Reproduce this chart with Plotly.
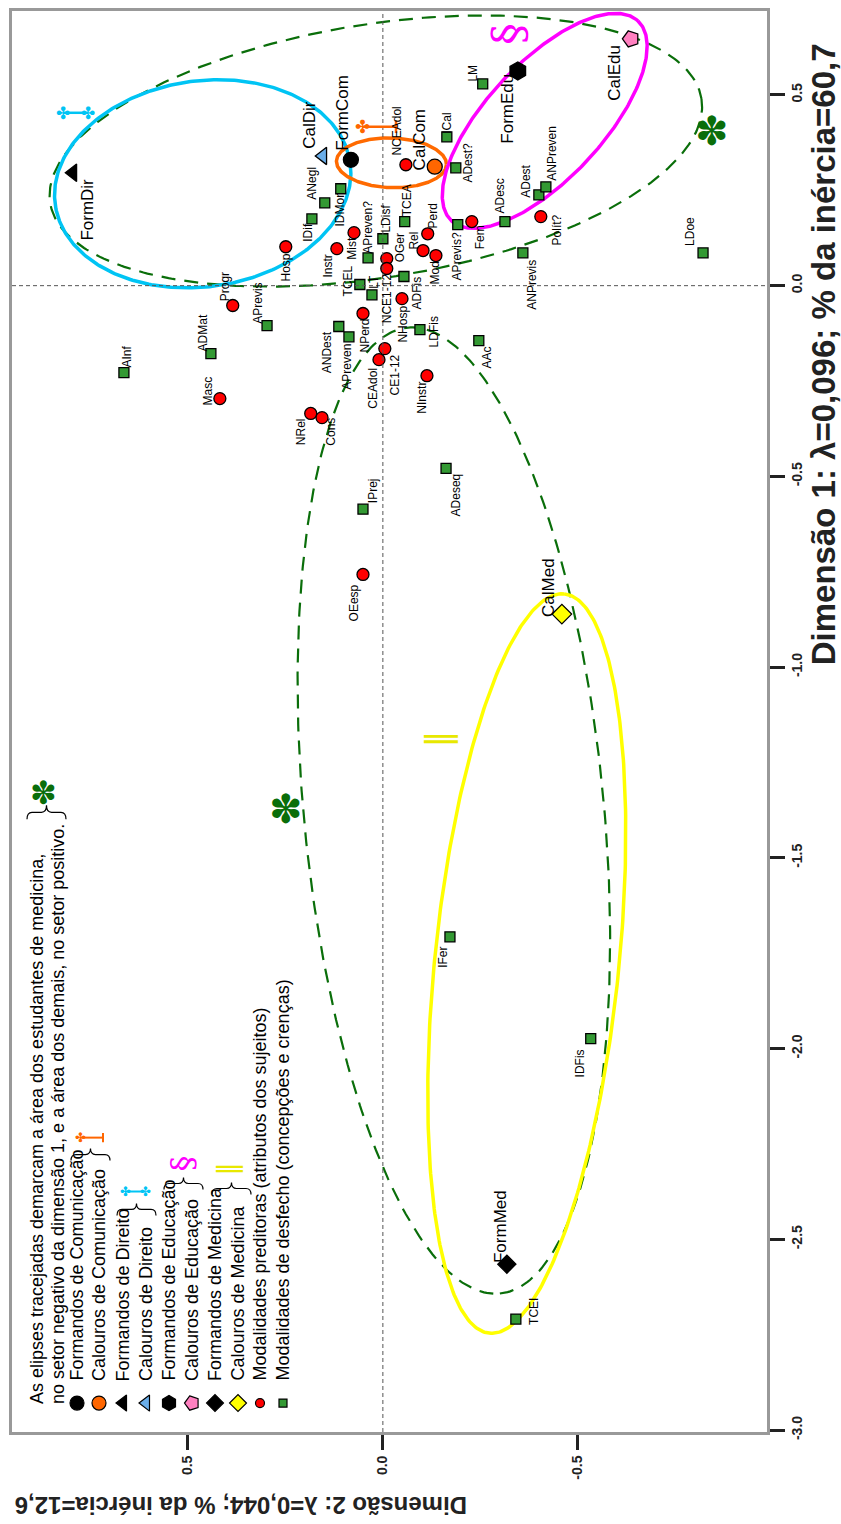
import numpy as np
import plotly.graph_objects as go

# ---------------- data (Dim2 = horizontal, reversed; Dim1 = vertical) ----------------
grp_names = ["FormCom", "CalCom", "FormDir", "CalDir", "FormEdu", "CalEdu", "FormMed", "CalMed"]
grp_d2 = [0.082, -0.133, 0.795, 0.154, -0.346, -0.636, -0.318, -0.459]
grp_d1 = [0.330, 0.312, 0.296, 0.340, 0.563, 0.647, -2.565, -0.861]

pred_names = ["Progr", "Hosp", "Instr", "Mist", "OGer", "NCE1-12", "Rel", "Perd", "Mod", "Fem",
              "Polít?", "NCEAdol", "NHosp", "NPerd", "CE1-12", "CEAdol", "NInstr", "Masc",
              "NRel", "Cons", "OEesp"]
pred_d2 = [0.385, 0.249, 0.118, 0.074, -0.010, -0.010, -0.103, -0.115, -0.136, -0.228,
           -0.405, -0.059, -0.049, 0.051, -0.005, 0.010, -0.113, 0.418,
           0.185, 0.156, 0.051]
pred_d1 = [-0.052, 0.102, 0.097, 0.139, 0.071, 0.045, 0.092, 0.136, 0.079, 0.168,
           0.181, 0.317, -0.034, -0.073, -0.165, -0.194, -0.236, -0.296,
           -0.335, -0.346, -0.757]

out_names = ["ANegl", "IDMor", "IDif", "APreven?", "LDisf", "TCEA", "ICal", "ADest?", "APrevis?",
             "ADFis", "TCEL", "LT", "LDFis", "ANDest", "APreven", "AAc", "ANPrevis", "ADesc",
             "ADest", "ANPreven", "LM", "LDoe", "ADMat", "APrevis", "AInf", "IPrej", "ADeseq",
             "IFer", "IDFis", "TCEI"]
out_d2 = [0.149, 0.108, 0.182, 0.038, 0.000, -0.056, -0.164, -0.187, -0.192,
          -0.054, 0.059, 0.028, -0.095, 0.113, 0.087, -0.246, -0.359, -0.313,
          -0.400, -0.418, -0.256, -0.821, 0.441, 0.297, 0.664, 0.051, -0.162,
          -0.172, -0.533, -0.341]
out_d1 = [0.217, 0.254, 0.175, 0.073, 0.123, 0.168, 0.390, 0.309, 0.160,
          0.024, 0.003, -0.024, -0.115, -0.107, -0.134, -0.144, 0.086, 0.168,
          0.238, 0.259, 0.529, 0.086, -0.178, -0.105, -0.228, -0.586, -0.479,
          -1.707, -1.974, -2.709]

# ellipses: centre and two conjugate semi-axis vectors (data units)
ell_c2 = [0.462, -0.022, -0.415, -0.369, 0.018, -0.182]
ell_c1 = [0.267, 0.322, 0.432, -1.777, 0.353, -1.376]
ell_A = [(-0.378, 0.056), (-0.141, -0.005), (-0.239, 0.262), (-0.096, 0.969), (-0.835, 0.137), (-0.118, -1.266)]
ell_B = [(-0.038, -0.267), (0.003, -0.065), (-0.109, -0.104), (-0.235, -0.024), (-0.052, -0.328), (-0.383, 0.037)]

x_ticks = [0.5, 0.0, -0.5, -1.0]
x_ticktext = ["0.5", "0.0", "-0.5", "-1.0"]
y_ticks = [0.5, 0.0, -0.5, -1.0, -1.5, -2.0, -2.5, -3.0]
y_ticktext = ["0.5", "0.0", "-0.5", "-1.0", "-1.5", "-2.0", "-2.5", "-3.0"]

legend_labels = ["Formandos de Comunicação", "Calouros de Comunicação", "Formandos de Direito",
                 "Calouros de Direito", "Formandos de Educação", "Calouros de Educação",
                 "Formandos de Medicina", "Calouros de Medicina",
                 "Modalidades preditoras (atributos dos sujeitos)",
                 "Modalidades de desfecho (concepções e crenças)"]
legend_header = ["As elipses tracejadas demarcam a área dos estudantes de medicina,",
                 "no setor negativo da dimensão 1, e a área dos demais, no setor positivo."]

# ---------------- styles ----------------
FONT = "Liberation Sans, Arial, sans-serif"
grp_style = {
    "FormCom": dict(symbol="circle", color="#000000", size=15, angle=0),
    "CalCom": dict(symbol="circle", color="#ff6600", size=15, angle=0),
    "FormDir": dict(symbol="triangle-left", color="#000000", size=15, angle=0),
    "CalDir": dict(symbol="triangle-left", color="#6aaeea", size=15, angle=0),
    "FormEdu": dict(symbol="hexagon", color="#000000", size=18, angle=0),
    "CalEdu": dict(symbol="pentagon", color="#ff80c0", size=17, angle=-90),
    "FormMed": dict(symbol="diamond", color="#000000", size=14, angle=0),
    "CalMed": dict(symbol="diamond", color="#ffff00", size=15, angle=0),
}
# label offsets in pixels (dx right, dy down) relative to the marker
grp_off = {"FormCom": (-8, -47), "CalCom": (-15, -27), "FormDir": (15, 37), "CalDir": (-13, -31),
           "FormEdu": (-10, 38), "CalEdu": (-16, 34), "FormMed": (-7, -38), "CalMed": (-14, -27)}
lab_off = {
    "Progr": (-8, -19), "Hosp": (0, 21), "Instr": (-9, 17), "Mist": (-2, 16), "OGer": (13, -11),
    "NCE1-12": (0, 30), "Rel": (-9, -10), "Perd": (5, -18), "Mod": (-1, 17), "Fem": (8, 16),
    "Polít?": (16, 13), "NCEAdol": (-9, -34), "NHosp": (1, 25), "NPerd": (2, 22), "CE1-12": (10, 26),
    "CEAdol": (-6, 28), "NInstr": (-5, 22), "Masc": (-12, -8), "NRel": (-9, 18), "Cons": (9, 14),
    "OEesp": (-9, 28),
    "ANegl": (-13, -20), "IDMor": (-1, 21), "IDif": (-4, 13), "APreven?": (0, -30), "LDisf": (3, -20),
    "TCEA": (2, -21), "ICal": (0, -14), "ADest?": (12, -5), "APrevis?": (-1, 32), "ADFis": (13, 16),
    "TCEL": (-12, -4), "LT": (2, -13), "LDFis": (14, 2), "ANDest": (-11, 26), "APreven": (-2, 30),
    "AAc": (8, 17), "ANPrevis": (9, 32), "ADesc": (-5, -26), "ADest": (-13, -14), "ANPreven": (6, -34),
    "LM": (-10, -11), "LDoe": (-13, -21), "ADMat": (-8, -21), "APrevis": (-9, -22), "AInf": (3, -16),
    "IPrej": (10, -19), "ADeseq": (10, 27), "IFer": (-7, 20), "IDFis": (-11, 25), "TCEI": (18, -8),
}

fig = go.Figure()

# ellipses
ell_style = [
    dict(color="#00c4f4", width=3.5, dash="solid"),
    dict(color="#ff6a00", width=3.5, dash="solid"),
    dict(color="#ff00ff", width=3.5, dash="solid"),
    dict(color="#ffff00", width=3.5, dash="solid"),
    dict(color="#0a6e0a", width=2.2, dash="14px,9px"),
    dict(color="#0a6e0a", width=2.2, dash="14px,9px"),
]
t = np.linspace(0, 2 * np.pi, 361)
order = [4, 5, 0, 1, 2, 3]
for i in order:
    ex = ell_c2[i] + np.cos(t) * ell_A[i][0] + np.sin(t) * ell_B[i][0]
    ey = ell_c1[i] + np.cos(t) * ell_A[i][1] + np.sin(t) * ell_B[i][1]
    fig.add_trace(go.Scatter(x=ex, y=ey, mode="lines", line=ell_style[i], hoverinfo="skip", showlegend=False))

# outcome squares
fig.add_trace(go.Scatter(x=out_d2, y=out_d1, mode="markers", showlegend=False,
                         marker=dict(symbol="square", size=10, color="#339933",
                                     line=dict(color="#000000", width=1.3))))
# predictor circles
fig.add_trace(go.Scatter(x=pred_d2, y=pred_d1, mode="markers", showlegend=False,
                         marker=dict(symbol="circle", size=12, color="#ff0000",
                                     line=dict(color="#000000", width=1.3))))
# groups
for n, x, y in zip(grp_names, grp_d2, grp_d1):
    s = grp_style[n]
    fig.add_trace(go.Scatter(x=[x], y=[y], mode="markers", showlegend=False,
                             marker=dict(symbol=s["symbol"], size=s["size"], color=s["color"], angle=s["angle"],
                                         line=dict(color="#000000", width=1.3))))

annotations = []
for n, x, y in zip(grp_names, grp_d2, grp_d1):
    dx, dy = grp_off[n]
    annotations.append(dict(x=x, y=y, xref="x", yref="y", text=n, showarrow=False, textangle=-90,
                            xanchor="center", yanchor="middle",
                            xshift=dx, yshift=-dy, font=dict(family=FONT, size=17, color="#000")))
for names, xs, ys in ((pred_names, pred_d2, pred_d1), (out_names, out_d2, out_d1)):
    for n, x, y in zip(names, xs, ys):
        dx, dy = lab_off[n]
        annotations.append(dict(x=x, y=y, xref="x", yref="y", text=n, showarrow=False, textangle=-90,
                                xanchor="center", yanchor="middle",
                                xshift=dx, yshift=-dy, font=dict(family=FONT, size=12, color="#000")))

# plot-area pixel helpers for decorations
x0, x1, y0, y1 = 12, 767, 8, 1432
def fx(px): return (px - x0) / (x1 - x0)
def fy(py): return (y1 - py) / (y1 - y0)

shapes = [
    dict(type="line", xref="x", yref="paper", x0=0, x1=0, y0=0, y1=1,
         line=dict(color="#555", width=1, dash="4px,3px")),
    dict(type="line", xref="paper", yref="y", x0=0, x1=1, y0=0, y1=0,
         line=dict(color="#555", width=1, dash="4px,3px")),
]

def deco(px, py, text, size, color, angle=0, family="DejaVu Sans"):
    annotations.append(dict(x=fx(px), y=fy(py), xref="paper", yref="paper", text=text, showarrow=False,
                            xanchor="center", yanchor="middle",
                            textangle=angle, font=dict(family=family, size=size, color=color)))

def seg(xa, ya, xb, yb, color, width):
    shapes.append(dict(type="line", xref="paper", yref="paper", x0=fx(xa), y0=fy(ya), x1=fx(xb), y1=fy(yb),
                       line=dict(color=color, width=width)))

def orange_orn(xc, y, length, fsize, w):
    seg(xc, y, xc + length, y, "#ff6600", w)
    seg(xc + length, y - fsize * 0.35, xc + length, y + fsize * 0.35, "#ff6600", w)
    deco(xc, y, "✤", fsize, "#ff6600")

def cyan_orn(xa, xb, y, fsize, w):
    seg(xa, y, xb, y, "#00c4f4", w)
    deco(xa, y, "✤", fsize, "#00c4f4")
    deco(xb, y, "✤", fsize, "#00c4f4")

deco(286, 808, "✽", 40, "#0a6e0a")
deco(712, 128, "✽", 40, "#0a6e0a")
orange_orn(362, 124, 34, 18, 2.5)
cyan_orn(63, 88, 110, 17, 2.5)
deco(509, 31, "§", 44, "#ff00ff", -90, "DejaVu Serif")
deco(438, 738, "‖", 34, "#e8e800", -90)

# legend
leg_x_px = [77, 99, 123, 146, 169, 192, 215, 238, 260, 283]
leg_sym = [("circle", "#000000", 14, 0), ("circle", "#ff6600", 14, 0), ("triangle-left", "#000000", 14, 0),
           ("triangle-left", "#6aaeea", 14, 0), ("hexagon", "#000000", 15, 0), ("pentagon", "#ff80c0", 15, -90),
           ("diamond", "#000000", 13, 0), ("diamond", "#ffff00", 13, 0), ("circle", "#ff0000", 9, 0),
           ("square", "#339933", 8, 0)]
for i, (sym, col, sz, ang) in enumerate(leg_sym):
    fig.add_trace(go.Scatter(x=[fx(leg_x_px[i])], y=[fy(1403)], xaxis="x2", yaxis="y2", mode="markers",
                             showlegend=False, hoverinfo="skip",
                             marker=dict(symbol=sym, color=col, size=sz, angle=ang,
                                         line=dict(color="#000", width=1.2))))
    annotations.append(dict(x=fx(leg_x_px[i]), y=fy(1383), xref="paper", yref="paper", text=legend_labels[i],
                            showarrow=False, textangle=-90, xanchor="center", yanchor="bottom",
                            font=dict(family=FONT, size=18, color="#000")))
for px, txt in zip([37, 58], legend_header):
    annotations.append(dict(x=fx(px), y=fy(1406), xref="paper", yref="paper", text=txt,
                            showarrow=False, textangle=-90, xanchor="center", yanchor="bottom",
                            font=dict(family=FONT, size=18, color="#000")))

# horizontal curly braces (tip pointing up) grouping legend lines
def brace(xl, xr, yb, d=12, q=5):
    xm = (xl + xr) / 2
    ym = yb - d / 2
    yt = yb - d
    pts = [("M", xl, yb), ("Q", xl, ym, xl + q, ym), ("L", xm - q, ym), ("Q", xm, ym, xm, yt),
           ("Q", xm, ym, xm + q, ym), ("L", xr - q, ym), ("Q", xr, ym, xr, yb)]
    path = ""
    for p in pts:
        cmd, coords = p[0], p[1:]
        xy = [f"{fx(coords[k]):.5f},{fy(coords[k + 1]):.5f}" for k in range(0, len(coords), 2)]
        path += cmd + " " + " ".join(xy) + " "
    shapes.append(dict(type="path", xref="paper", yref="paper", path=path.strip(),
                       line=dict(color="#000", width=1.2)))

brace(27, 66, 818, d=14)
brace(71, 110, 1160)
brace(117, 156, 1215)
brace(164, 203, 1189)
brace(212, 251, 1194)
deco(43, 792, "✽", 32, "#0a6e0a")
orange_orn(80, 1137, 23, 13, 2)
cyan_orn(125, 145, 1191, 13, 2)
deco(182, 1163, "§", 32, "#ff00ff", -90, "DejaVu Serif")
deco(228, 1169, "‖", 26, "#e8e800", -90)

# axis titles
annotations.append(dict(x=fx(823), y=fy(352), xref="paper", yref="paper",
                        text="Dimensão 1: λ=0,096; % da inércia=60,7", showarrow=False, textangle=-90,
                        xanchor="center", yanchor="middle",
                        font=dict(family=FONT, size=33, color="#222", weight="bold")))
annotations.append(dict(x=fx(13), y=fy(1505), xref="paper", yref="paper",
                        text="Dimensão 2: λ=0,044; % da inércia=12,6", showarrow=False, textangle=180,
                        xanchor="left", yanchor="middle",
                        font=dict(family=FONT, size=24, color="#222", weight="bold")))

fig.update_layout(
    width=841, height=1524,
    margin=dict(l=12, r=74, t=8, b=92),
    plot_bgcolor="white", paper_bgcolor="white",
    showlegend=False,
    annotations=annotations, shapes=shapes,
    xaxis=dict(range=[0.951, -0.985], showgrid=False, zeroline=False, tickvals=x_ticks, ticktext=x_ticktext,
               ticks="outside", ticklen=15, tickwidth=3, tickcolor="#222", tickangle=-90,
               showline=True, linecolor="#999", linewidth=3, mirror=True,
               tickfont=dict(family=FONT, size=14, color="#222", weight="bold")),
    yaxis=dict(range=[-3.005, 0.72], side="right", showgrid=False, zeroline=False, tickvals=y_ticks,
               ticktext=y_ticktext, ticks="outside", ticklen=15, tickwidth=3, tickcolor="#222", tickangle=-90,
               showline=True, linecolor="#999", linewidth=3, mirror=True,
               tickfont=dict(family=FONT, size=14, color="#222", weight="bold")),
    xaxis2=dict(range=[0, 1], overlaying="x", visible=False, anchor="y2"),
    yaxis2=dict(range=[0, 1], overlaying="y", visible=False, anchor="x2"),
)

fig.write_html("out.html", config={"displayModeBar": False},
               post_script="document.body.style.margin='0px';document.body.style.overflow='hidden';")
